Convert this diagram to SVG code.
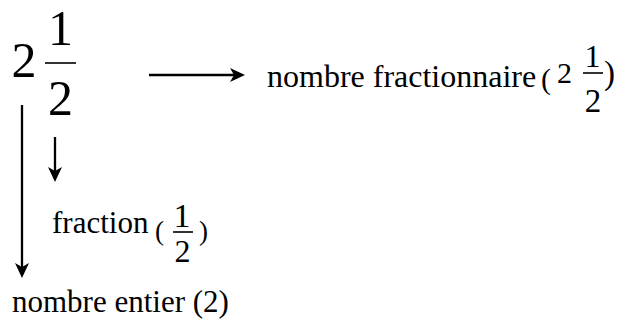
<svg xmlns="http://www.w3.org/2000/svg" width="626" height="322" viewBox="0 0 626 322">
<style>
.bar{stroke:#000;stroke-width:1.6}
.conn{stroke:#000;stroke-width:2.3;fill:none}
</style>
<defs>
<marker id="ah" markerUnits="userSpaceOnUse" markerWidth="20" markerHeight="20" refX="8" refY="0" orient="auto" overflow="visible">
<path d="M15,0 L0,-7 L4,0 L0,7 Z" fill="#000" stroke="none"/>
</marker>
</defs>
<rect width="626" height="322" fill="#fff"/>
<g id="mixed-number">
<text font-family="Liberation Serif, serif" font-size="50" x="11.5" y="77">2</text>
<text font-family="Liberation Serif, serif" font-size="50" x="60.5" y="45" text-anchor="middle">1</text>
<line class="bar" x1="45" y1="63" x2="76" y2="63" stroke-width="2"/>
<text font-family="Liberation Serif, serif" font-size="50" x="60.5" y="115" text-anchor="middle">2</text>
</g>
<g id="label-fractionnaire">
<text font-family="Liberation Serif, serif" font-size="32" x="267" y="87">nombre fractionnaire</text>
<text font-family="Liberation Serif, serif" font-size="30" x="541" y="89">(</text>
<text font-family="Liberation Serif, serif" font-size="30" x="557" y="83">2</text>
<text font-family="Liberation Serif, serif" font-size="32" x="592.5" y="67" text-anchor="middle">1</text>
<line class="bar" x1="583" y1="73" x2="603" y2="73"/>
<text font-family="Liberation Serif, serif" font-size="33" x="593" y="112" text-anchor="middle">2</text>
<text font-family="Liberation Serif, serif" font-size="33" x="604" y="84">)</text>
</g>
<g id="label-fraction">
<text font-family="Liberation Serif, serif" font-size="31" x="52" y="233">fraction</text>
<text font-family="Liberation Serif, serif" font-size="27" x="155" y="240">(</text>
<text font-family="Liberation Serif, serif" font-size="34" x="182" y="227" text-anchor="middle">1</text>
<line class="bar" x1="173" y1="232" x2="193" y2="232"/>
<text font-family="Liberation Serif, serif" font-size="32" x="182.5" y="262" text-anchor="middle">2</text>
<text font-family="Liberation Serif, serif" font-size="27" x="199" y="240">)</text>
</g>
<g id="label-entier">
<text font-family="Liberation Serif, serif" font-size="31" x="12" y="312">nombre entier (2)</text>
</g>
<g id="connectors" class="conn">
<line x1="149" y1="75" x2="238" y2="75" marker-end="url(#ah)"/>
<line x1="55" y1="137" x2="55" y2="175" marker-end="url(#ah)"/>
<line x1="22" y1="105" x2="22" y2="271" marker-end="url(#ah)"/>
</g>
</svg>
